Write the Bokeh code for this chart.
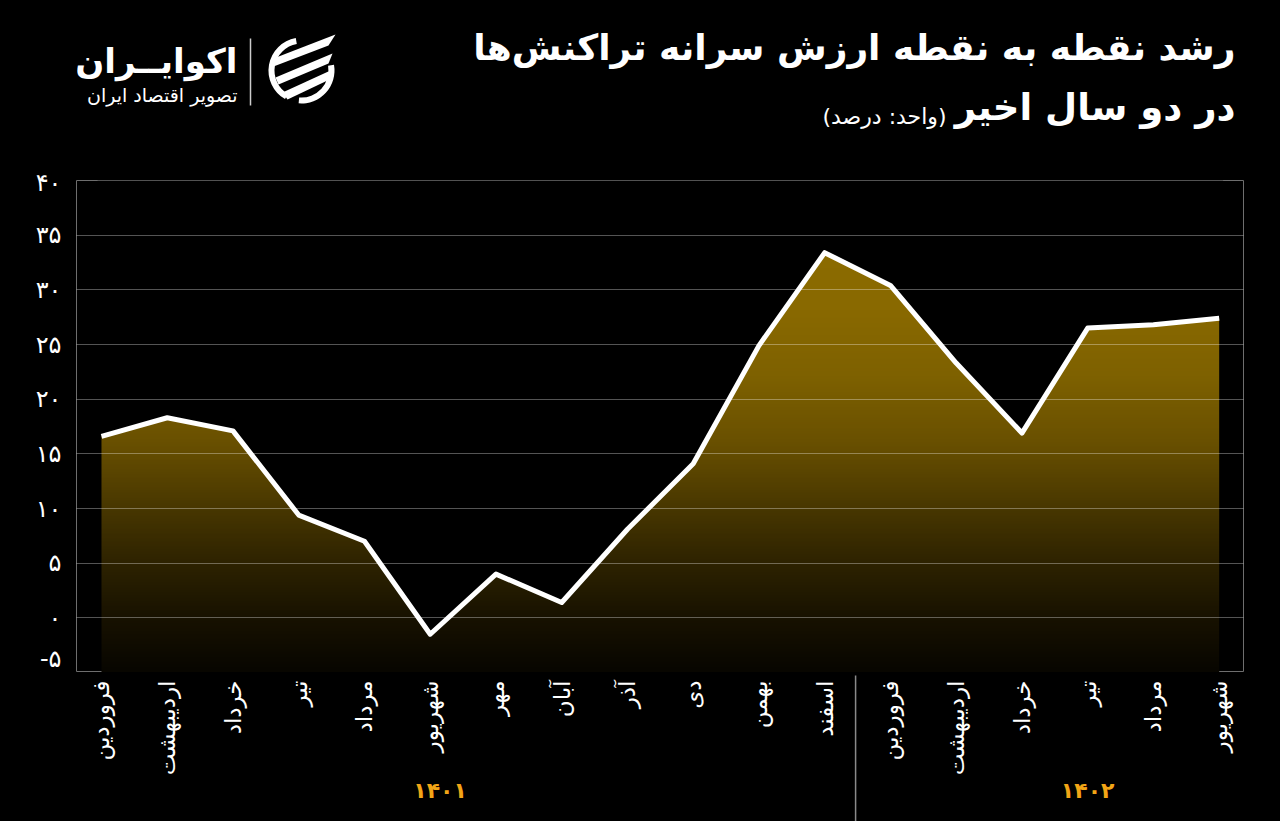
import numpy as np
from bokeh.plotting import figure
from bokeh.models import Range1d, FixedTicker
from bokeh.layouts import column
from bokeh.embed import file_html
from bokeh.resources import INLINE
from bokeh.core.properties import value

# ---------------- data ----------------
months = ["فروردین", "اردیبهشت", "خرداد", "تیر", "مرداد", "شهریور",
          "مهر", "آبان", "آذر", "دی", "بهمن", "اسفند",
          "فروردین", "اردیبهشت", "خرداد", "تیر", "مرداد", "شهریور"]
growth = [16.6, 18.3, 17.1, 9.4, 7.0, -1.5, 4.0, 1.4, 8.1, 14.1, 24.9, 33.4,
          30.4, 23.3, 16.9, 26.5, 26.8, 27.4]
years = ["۱۴۰۱", "۱۴۰۲"]
year_pos = [5.15, 15.0]
year_split = 11.47
yticks = [-5, 0, 5, 10, 15, 20, 25, 30, 35, 40]
fa = str.maketrans("0123456789", "۰۱۲۳۴۵۶۷۸۹")
ytick_labels = [str(t).translate(fa) for t in yticks]
title1 = "رشد نقطه به نقطه ارزش سرانه تراکنش‌ها"
title2 = "در دو سال اخیر"
unit_text = "(واحد: درصد)"
brand = "اکوایــران"
brand_sub = "تصویر اقتصاد ایران"

FONT = "DejaVu Sans"
W = 1280
LB, RB = 76, 37
idx = list(range(len(months)))
xr = Range1d(-0.38, 17.37)

common = dict(output_backend="svg", toolbar_location=None,
              min_border_left=LB, min_border_right=RB,
              background_fill_color="black", border_fill_color="black")

# ---------------- header (data x = page x, data y = 168 - page y) ----------------
h = figure(width=W, height=168, x_range=Range1d(LB, W - RB), y_range=Range1d(0, 168),
           min_border_top=0, min_border_bottom=0,
           x_axis_location=None, y_axis_location=None,
           outline_line_color=None, **common)
h.grid.visible = False


def htext(t, x, y, size, bold=False):
    h.text(x=[x], y=[y], text=[t], text_font=value(FONT), text_font_size=size,
           text_font_style="bold" if bold else "normal", text_color="white",
           text_align="right", text_baseline="middle")


htext(title1, 1235, 121, "36px", True)
htext(title2, 1235, 61, "37px", True)
htext(unit_text, 946, 52, "22px")

S = 30  # logo group shift (frame clips anything left of x=76)
htext(brand, 207 + S, 108, "34px", True)
htext(brand_sub, 207 + S, 74, "19px")
h.segment(x0=[220 + S], y0=[130], x1=[220 + S], y1=[63], line_color="white", line_width=1.5, line_alpha=0.8)

cx, cy = 271 + S, 98
h.annular_wedge(x=[cx, cx], y=[cy, cy], inner_radius=27, outer_radius=33,
                start_angle=[np.radians(100), np.radians(-95)],
                end_angle=[np.radians(240), np.radians(10)],
                fill_color="white", line_color=None)
blades = [[(243, 58), (305, 34), (298, 45), (243, 66)],
          [(245, 77), (302, 53), (298, 63), (248, 84)],
          [(252, 92), (300, 70), (297, 80), (257, 99)]]
h.patches(xs=[[q[0] + S for q in b] for b in blades], ys=[[168 - q[1] for q in b] for b in blades],
          fill_color="white", line_color=None)

# ---------------- chart ----------------
p = figure(width=W, height=504, x_range=xr, y_range=Range1d(-5, 40),
           min_border_top=12, min_border_bottom=0, x_axis_location=None,
           outline_line_color="#6e6e6e", outline_line_width=1, **common)

top = max(growth)
ny = 256
ys = np.linspace(-5, top, ny)
stop_y = [-5, 0, 5, 10, 16, 22, 28, 34]
stop_r = [8, 24, 46, 72, 105, 126, 137, 140]
stop_g = [6, 18, 35, 55, 80, 97, 105, 108]
img = np.empty((ny, 1), dtype=np.uint32)
view = img.view(dtype=np.uint8).reshape((ny, 1, 4))
view[:, 0, 0] = np.interp(ys, stop_y, stop_r).astype(np.uint8)
view[:, 0, 1] = np.interp(ys, stop_y, stop_g).astype(np.uint8)
view[:, 0, 2] = 0
view[:, 0, 3] = 255
p.image_rgba(image=[img], x=0, y=-5, dw=len(months) - 1, dh=top + 5)
# black mask above the line (slightly wider than the image to hide its edges)
mask_x = [idx[0] - 0.06] + idx + [idx[-1] + 0.06]
mask_y = [growth[0]] + growth + [growth[-1]]
p.varea(x=mask_x, y1=mask_y, y2=40, fill_color="black")
p.line(idx, growth, line_color="white", line_width=5, line_join="round", level="annotation")

p.yaxis.ticker = FixedTicker(ticks=yticks)
p.yaxis.major_label_overrides = dict(zip(yticks, ytick_labels))
p.yaxis.major_tick_line_color = None
p.yaxis.minor_tick_line_color = None
p.yaxis.axis_line_color = None
p.yaxis.major_label_text_color = "white"
p.yaxis.major_label_text_font = FONT
p.yaxis.major_label_text_font_size = "24px"
p.yaxis.major_label_standoff = 9
p.xgrid.visible = False
p.ygrid.ticker = FixedTicker(ticks=yticks)
p.ygrid.grid_line_color = "white"
p.ygrid.grid_line_alpha = 0.33
p.ygrid.level = "guide"

# ---------------- footer (data y = 821 - page y) ----------------
f = figure(width=W, height=149, x_range=xr, y_range=Range1d(0, 149),
           min_border_top=0, min_border_bottom=0,
           x_axis_location=None, y_axis_location=None,
           outline_line_color=None, **common)
f.grid.visible = False
f.text(x=idx, y=[141] * len(idx), text=months, angle=np.pi / 2,
       text_font=value(FONT), text_font_size="23px", text_color="white",
       text_align="right", text_baseline="middle")
f.text(x=year_pos, y=[31, 31], text=years, text_font=value(FONT), text_font_size="22px",
       text_font_style="bold", text_color="#F2A516", text_align="center", text_baseline="middle")
f.segment(x0=[year_split], y0=[146], x1=[year_split], y1=[0], line_color="#8a8a8a", line_width=1.5)

layout = column(h, p, f, spacing=0)
html = file_html(layout, INLINE)
html = html.replace("</head>", "<style>html, body { background: #000 !important; }</style></head>", 1)
open("out.html", "w").write(html)
